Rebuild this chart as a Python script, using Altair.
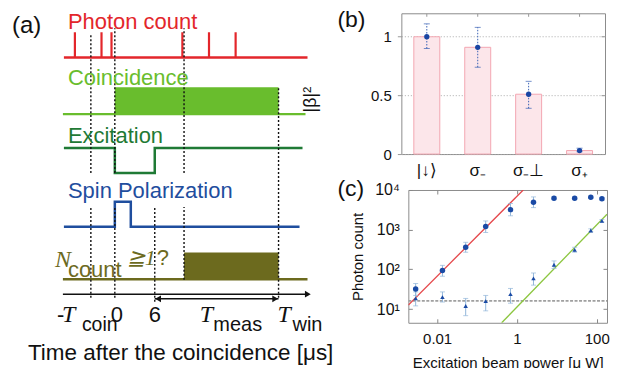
import altair as alt
import pandas as pd

FONT = "Liberation Sans"
SERIF = "Liberation Serif"
BLACK = "#111111"
RED = "#e3262b"
LIME = "#69bd2d"
DKGREEN = "#1f7a35"
BLUE = "#1f4e9e"
OLIVE = "#6c6a1e"

# ---------------- panel (a): timing schematic ----------------
# horizontal: schematic time (0 = coincidence); vertical: drawing level of each trace
T_COIN, T_ZERO, T_SPIN_END, T_EXC_END, T_MEAS, T_WIN = -3.6, 0.0, 2.4, 6.0, 10.4, 24.6
photon_times = [-6.0, -2.0, -0.5, 10.15, 14.15, 18.15]

# traces: (start, end, level, colour)
base_start = [-7.65, -7.8, -7.8]
base_end = [28.95, 28.65, 28.95]
base_level = [310.7, 254.0, 88.7]
base_color = [RED, LIME, OLIVE]

photon_lo, photon_hi = 310.7, 336.0

exc_t = [-7.65, T_ZERO, T_ZERO, T_EXC_END, T_EXC_END, 28.2]
exc_v = [220.0, 220.0, 195.0, 195.0, 220.0, 220.0]
spin_t = [-7.65, T_ZERO, T_ZERO, T_SPIN_END, T_SPIN_END, 27.75]
spin_v = [141.3, 141.3, 166.3, 166.3, 141.3, 141.3]

rect_t1 = [T_ZERO, T_MEAS]
rect_t2 = [T_WIN, T_WIN]
rect_v1 = [254.0, 88.7]
rect_v2 = [281.0, 115.3]
rect_color = [LIME, OLIVE]

dash_t = [T_COIN, T_COIN, T_ZERO, T_ZERO, T_EXC_END, T_MEAS, T_MEAS, T_WIN]
dash_v1 = [195, 70, 195, 70, 66, 195, 88, 70]
dash_v2 = [335, 161, 340, 161, 161, 340, 161, 281]

axis_t = [-7.8, 29.0]
axis_v = 73.7
span_t = [T_EXC_END, T_WIN]
span_v = 69.0

# text annotations (label, t, v, colour, size)
sans_left = [
    ("Photon count", -7.05, 339.7, RED, 22),
    ("Coincidence", -7.05, 283.0, LIME, 22),
    ("Excitation", -7.05, 224.7, DKGREEN, 22),
    ("Spin Polarization", -7.05, 169.7, BLUE, 22),
    ("count", -7.05, 91.3, OLIVE, 22),
    ("?", 6.3, 103.0, OLIVE, 22),
    ("(a)", -15.45, 335.0, BLACK, 24),
    ("(b)", 33.45, 341.5, BLACK, 23),
    ("(c)", 33.45, 172.0, BLACK, 23),
    ("-", -8.7, 46.0, BLACK, 22),
    ("coin", -4.95, 36.3, BLACK, 19.5),
    ("meas", 14.8, 36.3, BLACK, 20),
    ("win", 26.7, 36.3, BLACK, 20),
    ("Time after the coincidence [μs]", -13.05, 8.0, BLACK, 22.5),
]
sans_center = [
    ("0", 0.3, 46.0, BLACK, 22),
    ("6", T_EXC_END, 46.0, BLACK, 22),
]
serif_italic = [
    ("N", -9.0, 101.3, OLIVE, 24),
    ("≧1", 1.8, 103.0, OLIVE, 22),
    ("T", -7.95, 46.0, BLACK, 24),
    ("T", 12.75, 46.0, BLACK, 24),
    ("T", 24.45, 46.0, BLACK, 24),
]

XA = alt.Scale(domain=[-16.05, 33.45], nice=False, zero=False)
YA = alt.Scale(domain=[0, 355], nice=False, zero=False)


def ax(field):
    return alt.X(field, type="quantitative", scale=XA, axis=None)


def ay(field):
    return alt.Y(field, type="quantitative", scale=YA, axis=None)


anchor = alt.Chart(pd.DataFrame({"t": [-16.05], "v": [360.0], "v2": [359.0]})).mark_rule(opacity=0).encode(
    x=ax("t"), y=ay("v"), y2="v2")

base_df = pd.DataFrame({"t1": base_start, "t2": base_end, "v": base_level, "c": base_color})
bases = alt.Chart(base_df).mark_rule(strokeWidth=2.5).encode(
    x=ax("t1"), x2="t2", y=ay("v"), color=alt.Color("c:N", scale=None))

spikes = alt.Chart(pd.DataFrame({"t": photon_times, "v1": photon_lo, "v2": photon_hi})).mark_rule(
    strokeWidth=2.2, color=RED).encode(x=ax("t"), y=ay("v1"), y2="v2")

path_df = pd.DataFrame({
    "t": exc_t + spin_t, "v": exc_v + spin_v,
    "o": list(range(6)) * 2,
    "s": ["exc"] * 6 + ["spin"] * 6,
    "c": [DKGREEN] * 6 + [BLUE] * 6,
})
paths = alt.Chart(path_df).mark_line(strokeWidth=2.5, strokeJoin="miter").encode(
    x=ax("t"), y=ay("v"), order="o:Q", detail="s:N", color=alt.Color("c:N", scale=None))

rects = alt.Chart(pd.DataFrame({"t1": rect_t1, "t2": rect_t2, "v1": rect_v1, "v2": rect_v2, "c": rect_color})).mark_rect().encode(
    x=ax("t1"), x2="t2", y=ay("v1"), y2="v2", color=alt.Color("c:N", scale=None))

dashes = alt.Chart(pd.DataFrame({"t": dash_t, "v1": dash_v1, "v2": dash_v2})).mark_rule(
    strokeDash=[2, 2], strokeWidth=1.4, color=BLACK).encode(x=ax("t"), y=ay("v1"), y2="v2")

axis_line = alt.Chart(pd.DataFrame({"t1": [axis_t[0], span_t[0]], "t2": [axis_t[1], span_t[1]],
                                    "v": [axis_v, span_v]})).mark_rule(strokeWidth=1.5, color=BLACK).encode(
    x=ax("t1"), x2="t2", y=ay("v"))
heads_r = alt.Chart(pd.DataFrame({"t": [axis_t[1], span_t[1] - 0.5], "v": [axis_v, span_v]})).mark_point(
    shape="triangle-right", filled=True, size=45, color=BLACK, opacity=1).encode(x=ax("t"), y=ay("v"))
heads_l = alt.Chart(pd.DataFrame({"t": [span_t[0] + 0.5], "v": [span_v]})).mark_point(
    shape="triangle-left", filled=True, size=45, color=BLACK, opacity=1).encode(x=ax("t"), y=ay("v"))


def texts(rows, font, italic=False, align="left"):
    df = pd.DataFrame(rows, columns=["label", "t", "v", "c", "s"])
    return alt.Chart(df).mark_text(font=font, fontStyle="italic" if italic else "normal",
                                   align=align, baseline="alphabetic").encode(
        x=ax("t"), y=ay("v"), text="label:N",
        color=alt.Color("c:N", scale=None), size=alt.Size("s:Q", scale=None))


panel_a = alt.layer(
    anchor, rects, bases, spikes, paths, dashes, axis_line, heads_r, heads_l,
    texts(sans_left, FONT), texts(sans_center, FONT, align="center"), texts(serif_italic, SERIF, italic=True),
).properties(width=330, height=355)

# ---------------- panel (b): |beta|^2 bars ----------------
b_cats = ["|↓⟩", "σ₋", "σ₋⊥", "σ₊"]
b_vals = [1.0, 0.91, 0.51, 0.03]
b_lo = [0.90, 0.74, 0.39, 0.02]
b_hi = [1.11, 1.08, 0.62, 0.05]
dfb = pd.DataFrame({"cat": b_cats, "val": b_vals, "lo": b_lo, "hi": b_hi})

XB_SCALE = alt.Scale(paddingInner=0.49, paddingOuter=0.245)
YB_SCALE = alt.Scale(domain=[0, 1.2], nice=False, zero=False)
axb_x = alt.Axis(title=None, labelAngle=0, labelFontSize=17, labelPadding=8, ticks=False, tickSize=0,
                 domain=False, grid=False)
axb_y = alt.Axis(title="|β|²", values=[0, 0.5, 1], format="~g", grid=True, gridDash=[1, 2],
                 gridColor="#aaaaaa", domain=False, tickSize=4, tickColor="#999999", labelFontSize=15,
                 labelPadding=6, titleFontSize=18, titlePadding=51, titleY=86)
axb_top = alt.Axis(orient="top", title=None, labels=False, tickSize=3, offset=-3, domain=False,
                   tickColor="#999999", grid=False)
axb_right = alt.Axis(orient="right", title=None, labels=False, values=[0.5, 1], tickSize=4, offset=-4,
                     domain=False, tickColor="#999999", grid=False)

bars = alt.Chart(dfb).mark_bar(fill="#fce6ea", stroke="#f3a7b2", strokeWidth=1).encode(
    x=alt.X("cat:N", sort=b_cats, scale=XB_SCALE, axis=axb_x),
    y=alt.Y("val:Q", scale=YB_SCALE, axis=axb_y))
b_err = alt.Chart(dfb).mark_rule(color="#3a62b5", strokeDash=[1.5, 1.5], strokeWidth=1).encode(
    x=alt.X("cat:N", sort=b_cats, scale=XB_SCALE, axis=axb_top),
    y=alt.Y("lo:Q", scale=YB_SCALE, axis=axb_right), y2="hi")
b_cap_lo = alt.Chart(dfb).mark_tick(color="#3a62b5", thickness=1, size=6).encode(
    x=alt.X("cat:N", sort=b_cats, scale=XB_SCALE, axis=None),
    y=alt.Y("lo:Q", scale=YB_SCALE, axis=None))
b_cap_hi = alt.Chart(dfb).mark_tick(color="#3a62b5", thickness=1, size=6).encode(
    x=alt.X("cat:N", sort=b_cats, scale=XB_SCALE, axis=None),
    y=alt.Y("hi:Q", scale=YB_SCALE, axis=None))
b_pts = alt.Chart(dfb).mark_circle(size=28, color="#1a46a3", opacity=1).encode(
    x=alt.X("cat:N", sort=b_cats, scale=XB_SCALE, axis=None),
    y=alt.Y("val:Q", scale=YB_SCALE, axis=None))

panel_b = alt.layer(bars, b_err, b_cap_lo, b_cap_hi, b_pts).resolve_axis(
    x="independent", y="independent").properties(
    width=204, height=141, view=alt.ViewBackground(stroke="#8c8c8c", strokeWidth=1))

# ---------------- panel (c): photon count vs power ----------------
circ_p = [0.0029, 0.0136, 0.052, 0.165, 0.69, 2.6, 8.5, 28, 71, 135]
circ_n = [32, 94, 360, 1200, 3200, 4900, 6200, 6200, 6600, 6000]
circ_lo = [22, 67, 270, 850, 2240, 3600, 5700, 5700, 6100, 5500]
circ_hi = [44, 126, 480, 1660, 4570, 6700, 6800, 6800, 7100, 6500]
tri_p = [0.0029, 0.0136, 0.052, 0.165, 0.69, 2.6, 8.5, 28, 71, 135]
tri_n = [18.5, 20, 11.9, 15.8, 23.7, 59, 131, 310, 950, 1660]
tri_lo = [12, 15, 6.8, 9, 14, 40, 105, 270, 880, 1550]
tri_hi = [27, 27, 18.5, 22, 33, 81, 163, 360, 1050, 1800]
red_fit_p = [0.0019, 1.44]
red_fit_n = [12.6, 10000]
green_fit_p = [0.415, 181]
green_fit_n = [4.5, 2450]
bg_p = [0.0019, 181]
bg_n = [16, 16]

XC_SCALE = alt.Scale(type="log", domain=[0.0019, 181], nice=False)
YC_SCALE = alt.Scale(type="log", domain=[4.5, 10000], nice=False)
sup = ("datum.value == 10 ? '10¹' : datum.value == 100 ? '10²' : "
       "datum.value == 1000 ? '10³' : '10⁴'")
axc_x = alt.Axis(title="Excitation beam power [μ W]", values=[0.01, 1, 100], format="~g", tickSize=4,
                 offset=-4, domain=False, tickColor="#888888", labelFontSize=15, labelPadding=9,
                 titleFontSize=15, titlePadding=9, grid=False)
axc_y = alt.Axis(title="Photon count", values=[10, 100, 1000, 10000], labelExpr=sup, tickSize=4, offset=-4,
                 domain=False, tickColor="#888888", labelFontSize=16, labelPadding=9, titleFontSize=15,
                 titlePadding=9, grid=False)
axc_top = alt.Axis(orient="top", title=None, labels=False, values=[0.01, 1, 100], tickSize=4, offset=-4,
                   domain=False, tickColor="#888888", grid=False)
axc_right = alt.Axis(orient="right", title=None, labels=False, values=[10, 100, 1000, 10000], tickSize=4,
                     offset=-4, domain=False, tickColor="#888888", grid=False)

fit_df = pd.DataFrame({"p": red_fit_p + green_fit_p, "n": red_fit_n + green_fit_n,
                       "s": ["red", "red", "green", "green"],
                       "c": ["#e5474b"] * 2 + ["#8cc63f"] * 2})
bg = alt.Chart(pd.DataFrame({"p": bg_p, "n": bg_n})).mark_line(
    color="#a0a0a0", strokeDash=[3, 1.5], strokeWidth=1.8, clip=True).encode(
    x=alt.X("p:Q", scale=XC_SCALE, axis=axc_x), y=alt.Y("n:Q", scale=YC_SCALE, axis=axc_y))
fits = alt.Chart(fit_df).mark_line(strokeWidth=1.3, clip=True).encode(
    x=alt.X("p:Q", scale=XC_SCALE, axis=axc_top), y=alt.Y("n:Q", scale=YC_SCALE, axis=axc_right),
    detail="s:N", color=alt.Color("c:N", scale=None))

err_df = pd.DataFrame({"p": circ_p + tri_p, "lo": circ_lo + tri_lo, "hi": circ_hi + tri_hi})
c_err = alt.Chart(err_df).mark_rule(color="#93b7da", strokeWidth=1).encode(
    x=alt.X("p:Q", scale=XC_SCALE, axis=None), y=alt.Y("lo:Q", scale=YC_SCALE, axis=None), y2="hi")
c_cap_lo = alt.Chart(err_df).mark_tick(color="#93b7da", thickness=1, size=5, orient="horizontal").encode(
    x=alt.X("p:Q", scale=XC_SCALE, axis=None), y=alt.Y("lo:Q", scale=YC_SCALE, axis=None))
c_cap_hi = alt.Chart(err_df).mark_tick(color="#93b7da", thickness=1, size=5, orient="horizontal").encode(
    x=alt.X("p:Q", scale=XC_SCALE, axis=None), y=alt.Y("hi:Q", scale=YC_SCALE, axis=None))
circles = alt.Chart(pd.DataFrame({"p": circ_p, "n": circ_n})).mark_point(
    shape="circle", filled=True, size=30, color="#1a4aa5", opacity=1).encode(
    x=alt.X("p:Q", scale=XC_SCALE, axis=None), y=alt.Y("n:Q", scale=YC_SCALE, axis=None))
tris = alt.Chart(pd.DataFrame({"p": tri_p, "n": tri_n})).mark_point(
    shape="triangle-up", filled=True, size=20, color="#1a4aa5", opacity=1).encode(
    x=alt.X("p:Q", scale=XC_SCALE, axis=None), y=alt.Y("n:Q", scale=YC_SCALE, axis=None))

panel_c = alt.layer(bg, fits, c_err, c_cap_lo, c_cap_hi, circles, tris).resolve_axis(
    x="independent", y="independent").properties(
    width=199, height=133, view=alt.ViewBackground(stroke="#8c8c8c", strokeWidth=1))

spacer = alt.Chart(pd.DataFrame({"z": [0]})).mark_point(opacity=0).encode(
    x=alt.X("z:Q", axis=None), y=alt.Y("z:Q", axis=None)).properties(width=1, height=1)

right = alt.vconcat(panel_b, alt.hconcat(spacer, panel_c, spacing=6, bounds="flush"),
                    spacing=36, bounds="flush")
chart = alt.hconcat(panel_a, right, spacing=64, bounds="flush").properties(padding=0).configure(
    font=FONT).configure_view(strokeWidth=0).configure_axis(
    labelFont=FONT, titleFont=FONT, labelColor=BLACK, titleColor=BLACK, titleFontWeight="normal")

chart.save("out.html", embed_options={"renderer": "svg", "actions": False})
